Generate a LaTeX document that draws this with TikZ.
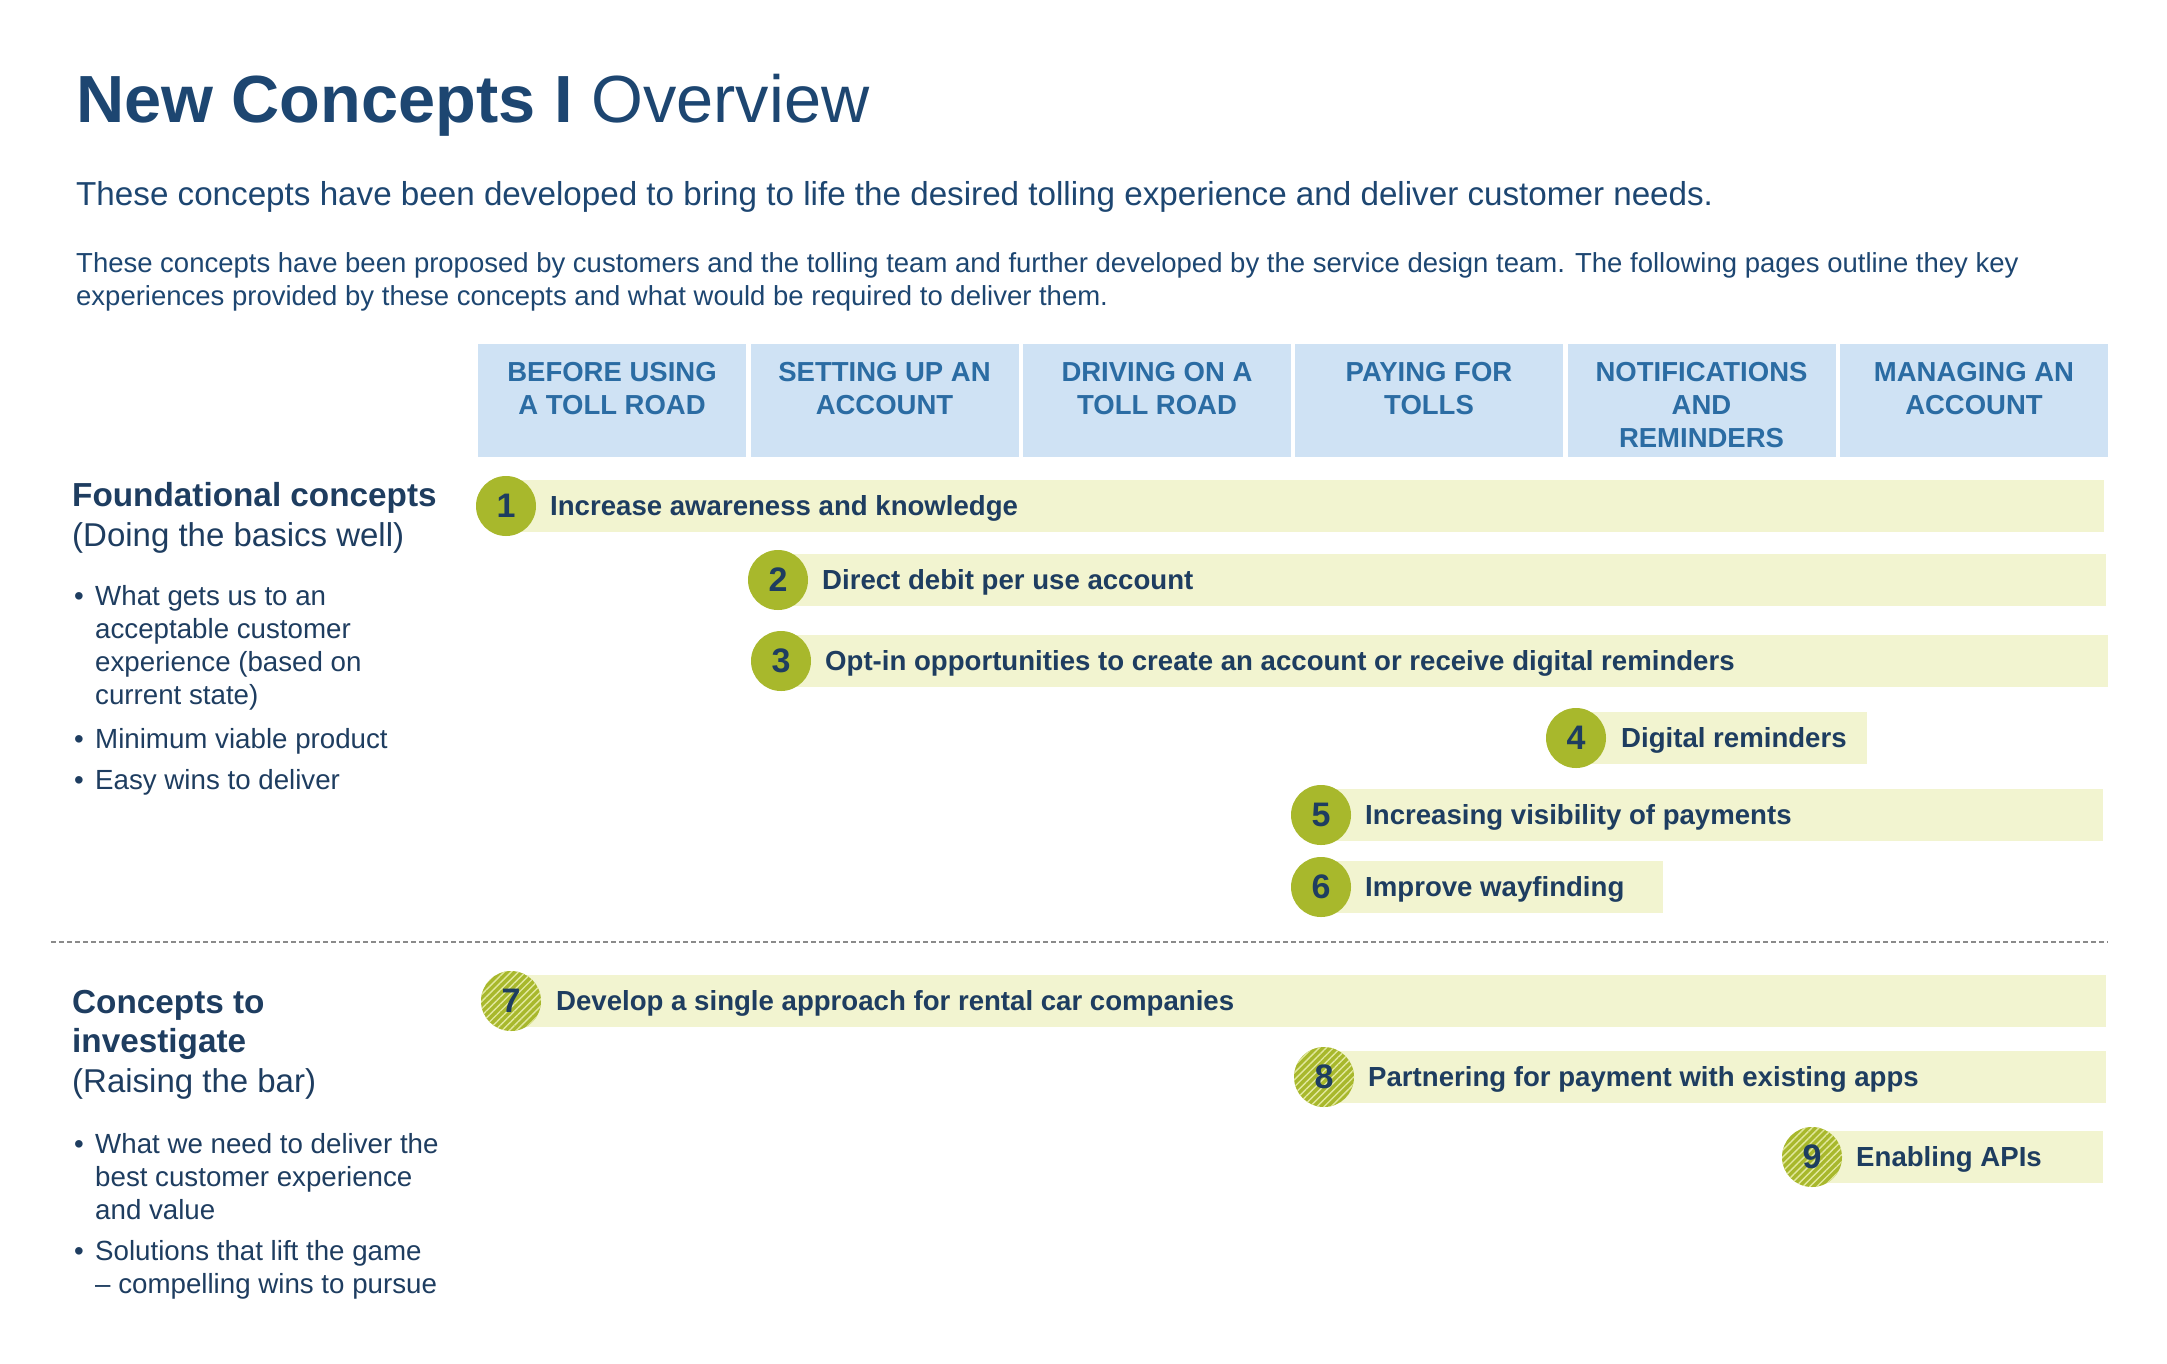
\documentclass[tikz,border=0pt]{standalone}
\usepackage{fontspec}
\setmainfont{Liberation Sans}
\usetikzlibrary{patterns.meta}
\definecolor{titlec}{HTML}{1D4671}
\definecolor{navyc}{HTML}{1E3D60}
\definecolor{hdrfill}{HTML}{CFE2F4}
\definecolor{hdrtext}{HTML}{2B6CA3}
\definecolor{barfill}{HTML}{F2F4D0}
\definecolor{olivec}{HTML}{A8B82C}
\definecolor{stripec}{HTML}{E2E89E}
\definecolor{dashc}{HTML}{8A8A8A}
\tikzset{
  hbox/.style={fill=hdrfill, draw=none, minimum width=268pt, minimum height=113pt, inner sep=0pt, outer sep=0pt},
  htext/.style={font=\fontsize{27.5}{33}\selectfont\bfseries, text=hdrtext, align=center, anchor=base, inner sep=0pt},
  bar/.style={fill=barfill, draw=none, minimum height=52pt, inner sep=0pt, outer sep=0pt, anchor=west},
  num/.style={circle, fill=olivec, minimum size=60pt, inner sep=0pt, font=\fontsize{34}{34}\selectfont\bfseries, text=navyc},
  hatchnum/.style={num, postaction={pattern={Lines[angle=45,distance=5pt,line width=1.4pt]}, pattern color=stripec}},
  bartext/.style={font=\fontsize{27.6}{33}\selectfont\bfseries, text=navyc, anchor=base west, inner sep=0pt},
  plain/.style={text=navyc, anchor=base west, inner sep=0pt, align=left},
  bul/.style={plain, font=\fontsize{27.7}{33}\selectfont},
}
\begin{document}
\begin{tikzpicture}[x=1pt,y=-1pt]
\useasboundingbox[fill=white] (0,0) rectangle (2167,1363);

% title and intro (multi-line nodes are placed by the baseline of their last line)
\node[plain, text=titlec, font=\fontsize{66.7}{80}\selectfont] (title) at (76,122) {{\bfseries New Concepts I} Overview};
\node[plain, text=titlec, font=\fontsize{33.2}{40}\selectfont] (sub) at (76,205) {These concepts have been developed to bring to life the desired tolling experience and deliver customer needs.};
\node[plain, text=titlec, font=\fontsize{27.5}{33}\selectfont] (intro) at (76,305) {These concepts have been proposed by customers and the tolling team and further developed by the service design team. The following pages outline they key\\experiences provided by these concepts and what would be required to deliver them.};

% header boxes
\node[hbox] (h1) at (612,400.5) {};
\node[hbox] (h2) at (884.5,400.5) {};
\node[hbox] (h3) at (1157,400.5) {};
\node[hbox] (h4) at (1429,400.5) {};
\node[hbox] (h5) at (1701.5,400.5) {};
\node[hbox] (h6) at (1974,400.5) {};
\node[htext] (t1) at (612,414) {BEFORE USING\\A TOLL ROAD};
\node[htext] (t2) at (884.5,414) {SETTING UP AN\\ACCOUNT};
\node[htext] (t3) at (1157,414) {DRIVING ON A\\TOLL ROAD};
\node[htext] (t4) at (1429,414) {PAYING FOR\\TOLLS};
\node[htext] (t5) at (1701.5,447) {NOTIFICATIONS\\AND\\REMINDERS};
\node[htext] (t6) at (1974,414) {MANAGING AN\\ACCOUNT};

% left labels: foundational
\node[plain, font=\fontsize{33.3}{40}\selectfont\bfseries] (fh) at (72,506) {Foundational concepts};
\node[plain, font=\fontsize{33}{40}\selectfont] (fs) at (72,546) {(Doing the basics well)};
\node[bul] (fb1d) at (74,605) {•};
\node[bul] (fb1) at (95,704) {What gets us to an\\acceptable customer\\experience (based on\\current state)};
\node[bul] (fb2d) at (74,748) {•};
\node[bul] (fb2) at (95,748) {Minimum viable product};
\node[bul] (fb3d) at (74,789) {•};
\node[bul] (fb3) at (95,789) {Easy wins to deliver};

% dashed separator
\coordinate (dL) at (51,942);
\coordinate (dR) at (2108,942);
\draw[dashc, line width=1.3pt, dash pattern=on 5pt off 3pt] (dL) -- (dR);

% left labels: investigate
\node[plain, font=\fontsize{33.3}{39.5}\selectfont\bfseries] (ih) at (72,1052.5) {Concepts to\\investigate};
\node[plain, font=\fontsize{33}{40}\selectfont] (is) at (72,1092) {(Raising the bar)};
\node[bul] (ib1d) at (74,1153) {•};
\node[bul] (ib1) at (95,1219) {What we need to deliver the\\best customer experience\\and value};
\node[bul] (ib2d) at (74,1260) {•};
\node[bul] (ib2) at (95,1293) {Solutions that lift the game\\– compelling wins to pursue};

% concept bars
\node[bar, minimum width=1598pt] (b1) at (506,506) {};
\node[num] (n1) at (b1.west) {1};
\node[bartext] (c1) at (550,515) {Increase awareness and knowledge};

\node[bar, minimum width=1328pt] (b2) at (778,580) {};
\node[num] (n2) at (b2.west) {2};
\node[bartext] (c2) at (822,589) {Direct debit per use account};

\node[bar, minimum width=1327pt] (b3) at (781,661) {};
\node[num] (n3) at (b3.west) {3};
\node[bartext] (c3) at (825,670) {Opt-in opportunities to create an account or receive digital reminders};

\node[bar, minimum width=291pt] (b4) at (1576,738) {};
\node[num] (n4) at (b4.west) {4};
\node[bartext] (c4) at (1621,747) {Digital reminders};

\node[bar, minimum width=782pt] (b5) at (1321,815) {};
\node[num] (n5) at (b5.west) {5};
\node[bartext] (c5) at (1365,824) {Increasing visibility of payments};

\node[bar, minimum width=342pt] (b6) at (1321,887) {};
\node[num] (n6) at (b6.west) {6};
\node[bartext] (c6) at (1365,896) {Improve wayfinding};

\node[bar, minimum width=1595pt] (b7) at (511,1001) {};
\node[hatchnum] (n7) at (b7.west) {7};
\node[bartext] (c7) at (556,1010) {Develop a single approach for rental car companies};

\node[bar, minimum width=782pt] (b8) at (1324,1077) {};
\node[hatchnum] (n8) at (b8.west) {8};
\node[bartext] (c8) at (1368,1086) {Partnering for payment with existing apps};

\node[bar, minimum width=291pt] (b9) at (1812,1157) {};
\node[hatchnum] (n9) at (b9.west) {9};
\node[bartext] (c9) at (1856,1166) {Enabling APIs};
\end{tikzpicture}
\end{document}
